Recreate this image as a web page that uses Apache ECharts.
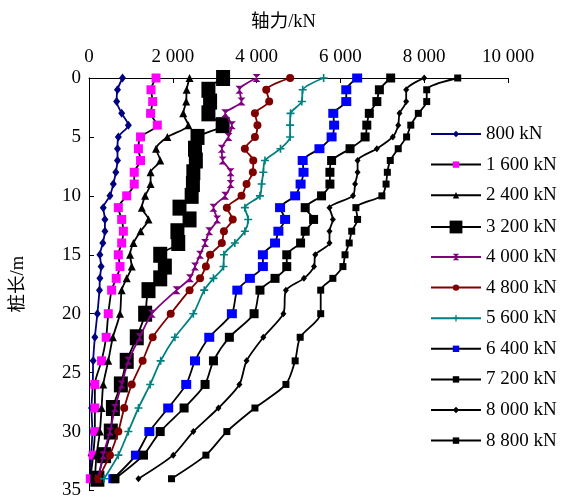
<!DOCTYPE html>
<html>
<head>
<meta charset="utf-8">
<script src="https://cdn.jsdelivr.net/npm/echarts@6/dist/echarts.min.js"></script>
<style>
  html, body { margin: 0; padding: 0; background: #fff; }
  #chart { width: 562px; height: 500px; }
</style>
</head>
<body>
<div id="chart"></div>
<script>
// Measurement depths along the pile (m)
const depths = [0, 1, 2, 3, 4, 5, 6, 7, 8, 9, 10, 11, 12, 13, 14, 15, 16, 17, 18, 20, 22, 24, 26, 28, 30, 32, 34];

// Axial force (kN) at each depth, one array per load step
const n800  = [800, 680, 660, 780, 940, 700, 680, 680, 640, 580, 500, 340, 380, 380, 330, 260, 290, 260, 250, 200, 140, 100, 90, 60, 80, 50, 30];
const n1600 = [1600, 1480, 1520, 1470, 1630, 1230, 1180, 1230, 1080, 1080, 900, 700, 780, 820, 780, 700, 740, 650, 540, 460, 410, 300, 140, 140, 140, 100, 30];
const n2400 = [2400, 2330, 2320, 2250, 2370, 1870, 1600, 1700, 1470, 1470, 1340, 1260, 1420, 1230, 1060, 980, 1020, 900, 780, 740, 570, 460, 340, 300, 260, 180, 140];
const n3200 = [3200, 2850, 2890, 2850, 3190, 2590, 2530, 2550, 2490, 2480, 2450, 2160, 2400, 2110, 2130, 1700, 1810, 1700, 1420, 1340, 1140, 900, 760, 570, 520, 360, 200];
const n4000 = [4000, 3590, 3640, 3250, 3410, 3330, 3170, 3190, 3380, 3380, 3250, 2970, 3060, 2870, 2770, 2650, 2530, 2410, 2090, 1500, 1210, 940, 780, 620, 500, 340, 220];
const n4800 = [4800, 4230, 4300, 3960, 4020, 3960, 3720, 3920, 3910, 3760, 3640, 3290, 3430, 3220, 3170, 2890, 2790, 2650, 2400, 1950, 1520, 1280, 1020, 840, 700, 500, 220];
const n5600 = [5600, 5100, 5080, 4810, 4800, 4800, 4570, 4200, 4160, 4120, 4080, 3720, 3800, 3720, 3480, 3220, 3210, 2970, 2750, 2490, 2050, 1710, 1460, 1180, 940, 700, 360];
const n6400 = [6400, 6140, 6140, 5830, 5850, 5790, 5500, 5100, 5120, 5050, 4920, 4560, 4680, 4520, 4440, 4150, 4150, 3840, 3540, 3410, 2870, 2530, 2320, 1890, 1440, 1120, 580];
const n7200 = [7200, 6930, 6870, 6690, 6630, 6590, 6230, 5790, 5750, 5750, 5550, 5160, 5360, 5160, 5050, 4720, 4720, 4440, 4080, 3940, 3350, 2970, 2770, 2270, 1700, 1300, 620];
const n8000 = [8000, 7570, 7570, 7410, 7380, 7250, 6870, 6410, 6410, 6350, 6300, 5740, 5820, 5740, 5740, 5400, 5370, 5130, 4700, 4640, 4160, 3760, 3590, 3090, 2490, 2010, 1180];
const n8800 = [8800, 8060, 8060, 7860, 7680, 7580, 7380, 7190, 7120, 7090, 6990, 6370, 6410, 6270, 6210, 6110, 6060, 5820, 5530, 5530, 5040, 4920, 4700, 3960, 3290, 2790, 1970];

const loadNames = ['800 kN', '1 600 kN', '2 400 kN', '3 200 kN', '4 000 kN', '4 800 kN',
                   '5 600 kN', '6 400 kN', '7 200 kN', '8 000 kN', '8 800 kN'];
const loadValues = [n800, n1600, n2400, n3200, n4000, n4800, n5600, n6400, n7200, n8000, n8800];

const xTickLabels = ['0', '2 000', '4 000', '6 000', '8 000', '10 000'];
const yTickLabels = ['0', '5', '10', '15', '20', '25', '30', '35'];

// Marker shapes
const HOURGLASS = 'path://M0,0L10,0L0,10L10,10Z';
const PLUS = 'path://M4,0L6,0L6,4L10,4L10,6L6,6L6,10L4,10L4,6L0,6L0,4L4,4Z';

// Line colour, marker colour, marker shape and size for each load step
const styles = [
  { line: '#000080', mark: '#000080', symbol: 'diamond', size: [7, 9] },
  { line: '#000000', mark: '#ff00ff', symbol: 'rect', size: 9 },
  { line: '#000000', mark: '#000000', symbol: 'triangle', size: 8 },
  { line: '#000000', mark: '#000000', symbol: 'rect', size: [14, 16] },
  { line: '#800080', mark: '#800080', symbol: HOURGLASS, size: 8 },
  { line: '#800000', mark: '#800000', symbol: 'circle', size: 8 },
  { line: '#008080', mark: '#008080', symbol: PLUS, size: 8 },
  { line: '#000000', mark: '#0000ff', symbol: 'rect', size: [10, 9] },
  { line: '#000000', mark: '#000000', symbol: 'rect', size: [9, 9] },
  { line: '#000000', mark: '#000000', symbol: 'diamond', size: [6, 7] },
  { line: '#000000', mark: '#000000', symbol: 'rect', size: [7, 7] }
];

const FONT = "'Liberation Serif', 'Noto Sans CJK SC', serif";

const series = loadNames.map((name, i) => ({
  name: name,
  type: 'line',
  data: depths.map((d, k) => [loadValues[i][k], d]),
  smooth: 0.25,
  symbol: styles[i].symbol,
  symbolSize: styles[i].size,
  showAllSymbol: true,
  lineStyle: { color: styles[i].line, width: 1.8 },
  itemStyle: { color: styles[i].mark, borderWidth: 0 },
  emphasis: { disabled: true },
  z: 2 + i
}));

const legendText = { fontFamily: FONT, fontSize: 19, color: '#000', lineHeight: 19 };
const legendBase = {
  orient: 'vertical',
  left: 430,
  padding: 0,
  itemWidth: 50,
  itemHeight: 8,
  itemGap: 11.6,
  textStyle: legendText,
  selectedMode: false
};

const chart = echarts.init(document.getElementById('chart'), null, { renderer: 'canvas' });
chart.setOption({
  animation: false,
  backgroundColor: '#fff',
  grid: { left: 89, top: 78, right: 54, bottom: 8, containLabel: false },
  xAxis: {
    type: 'value',
    position: 'top',
    min: 0,
    max: 10000,
    interval: 2000,
    name: '轴力/kN',
    nameLocation: 'middle',
    nameGap: 47,
    nameTextStyle: { fontFamily: FONT, fontSize: 18.5, color: '#000', padding: [0, 30, 0, 0] },
    axisLine: { show: true, lineStyle: { color: '#000', width: 1 } },
    axisTick: { show: true, inside: true, length: 5, lineStyle: { color: '#000' } },
    axisLabel: {
      fontFamily: FONT, fontSize: 19, color: '#000', margin: 11,
      formatter: v => xTickLabels[Math.round(v / 2000)]
    },
    splitLine: { show: false }
  },
  yAxis: {
    type: 'value',
    inverse: true,
    min: 0,
    max: 35,
    interval: 5,
    name: '桩长/m',
    nameLocation: 'middle',
    nameRotate: 90,
    nameGap: 62,
    nameTextStyle: { fontFamily: FONT, fontSize: 18.5, color: '#000' },
    axisLine: { show: true, lineStyle: { color: '#000', width: 1 } },
    axisTick: { show: true, inside: true, length: 5, lineStyle: { color: '#000' } },
    axisLabel: {
      fontFamily: FONT, fontSize: 19, color: '#000', margin: 8,
      formatter: v => yTickLabels[Math.round(v / 5)]
    },
    splitLine: { show: false }
  },
  legend: [
    Object.assign({}, legendBase, { top: 124.5, data: loadNames.slice(0, 3) }),
    Object.assign({}, legendBase, { top: 217.5, itemHeight: 16, data: loadNames.slice(3, 4) }),
    Object.assign({}, legendBase, { top: 247.5, data: loadNames.slice(4) })
  ],
  series: series
});
</script>
</body>
</html>
